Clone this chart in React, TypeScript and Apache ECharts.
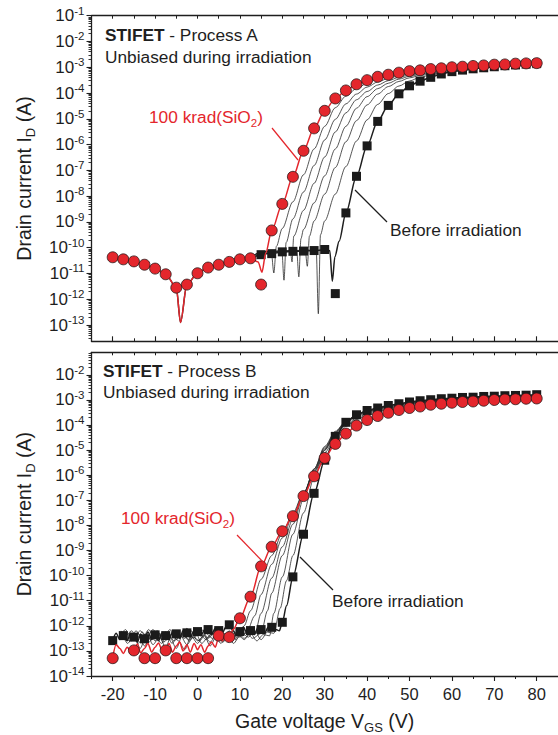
import React, { useEffect, useRef } from 'react';
import * as echarts from 'echarts';

const FONT = '"Liberation Sans", Arial, Helvetica, sans-serif';
const RED = '#e4262c';
const INK = '#1e1e1e';

// Gate voltage of the measured markers (V)
const vMarkers = [-20, -17.5, -15, -12.5, -10, -7.5, -5, -2.5, 0, 2.5, 5, 7.5, 10, 12.5, 15, 17.5, 20, 22.5, 25, 27.5, 30, 32.5, 35, 37.5, 40, 42.5, 45, 47.5, 50, 52.5, 55, 57.5, 60, 62.5, 65, 67.5, 70, 72.5, 75, 77.5, 80];

// log10(I_D / A)
// ---------- Process A (top panel) ----------
const topRedMarkers = [-10.37, -10.45, -10.53, -10.66, -10.81, -11.03, -11.55, -11.43, -10.99, -10.77, -10.66, -10.55, -10.45, -10.41, -11.43, -9.33, -8.30, -7.25, -6.24, -5.37, -4.69, -4.21, -3.90, -3.66, -3.50, -3.37, -3.29, -3.21, -3.15, -3.12, -3.07, -3.04, -3.00, -2.98, -2.95, -2.93, -2.90, -2.89, -2.86, -2.85, -2.84];
const topBlackMarkers = [null, null, null, null, null, null, null, null, null, null, null, null, null, null, -10.27, -10.23, -10.16, -10.14, -10.13, -10.11, -10.07, -11.78, -8.65, -7.23, -6.05, -5.10, -4.48, -4.03, -3.72, -3.54, -3.39, -3.26, -3.17, -3.11, -3.06, -3.02, -2.98, -2.94, -2.91, -2.88, -2.86];
const topRedLine = [[-20, -10.37], [-17.5, -10.45], [-15, -10.53], [-12.5, -10.66], [-10, -10.81], [-7.5, -11.03], [-5, -11.55], [-4.0, -12.9], [-2.5, -11.43], [0, -10.99], [2.5, -10.77], [5, -10.66], [7.5, -10.55], [10, -10.45], [12.5, -10.41], [14.3, -10.55], [15.2, -10.95], [16.1, -10.2], [17.5, -9.33], [20, -8.30], [22.5, -7.25], [25, -6.24], [27.5, -5.37], [30, -4.69], [32.5, -4.21], [35, -3.90], [37.5, -3.66], [40, -3.50], [42.5, -3.37], [45, -3.29], [47.5, -3.21], [50, -3.15], [52.5, -3.12], [55, -3.07], [57.5, -3.04], [60, -3.00], [62.5, -2.98], [65, -2.95], [67.5, -2.93], [70, -2.90], [72.5, -2.89], [75, -2.86], [77.5, -2.85], [80, -2.84]];
const topBlackLine = [[-20, -10.37], [-17.5, -10.45], [-15, -10.53], [-12.5, -10.66], [-10, -10.81], [-7.5, -11.03], [-5, -11.55], [-4.0, -12.9], [-2.5, -11.43], [0, -10.99], [2.5, -10.77], [5, -10.66], [7.5, -10.55], [10, -10.45], [12.5, -10.41], [15, -10.25], [17.5, -10.22], [20, -10.17], [22.5, -10.14], [25, -10.13], [27.5, -10.11], [30, -10.08], [31.2, -10.12], [31.8, -11.3], [32.4, -10.35], [33.4, -9.75], [35, -8.65], [37.5, -7.23], [40, -6.05], [42.5, -5.10], [45, -4.48], [47.5, -4.03], [50, -3.72], [52.5, -3.54], [55, -3.39], [57.5, -3.26], [60, -3.17], [62.5, -3.11], [65, -3.06], [67.5, -3.02], [70, -2.98], [72.5, -2.94], [75, -2.91], [77.5, -2.88], [80, -2.86]];
const topDose1 = [[12.5, -10.41], [15, -10.18], [17.4, -10.15], [18.0, -10.98], [18.6, -9.95], [20, -9.25], [22.5, -8.22], [25, -7.17], [27.5, -6.17], [30, -5.29], [32.5, -4.57], [35, -4.12], [37.5, -3.83], [40, -3.62], [42.5, -3.46], [45, -3.35], [47.5, -3.27], [50, -3.20], [55, -3.10], [60, -3.03], [70, -2.93], [80, -2.85]];
const topDose2 = [[12.5, -10.41], [15, -10.17], [19.9, -10.14], [20.4, -11.26], [20.9, -9.8], [22.5, -8.88], [25, -7.84], [27.5, -6.81], [30, -5.82], [32.5, -5.02], [35, -4.42], [37.5, -4.04], [40, -3.77], [42.5, -3.57], [45, -3.43], [47.5, -3.33], [50, -3.26], [55, -3.15], [60, -3.06], [70, -2.94], [80, -2.85]];
const topDose3 = [[12.5, -10.41], [15, -10.16], [21.9, -10.12], [22.3, -10.55], [22.7, -9.55], [25, -8.55], [27.5, -7.50], [30, -6.48], [32.5, -5.51], [35, -4.77], [37.5, -4.26], [40, -3.94], [42.5, -3.69], [45, -3.52], [47.5, -3.39], [50, -3.30], [52.5, -3.25], [55, -3.19], [60, -3.09], [70, -2.95], [80, -2.85]];
const topDose4 = [[12.5, -10.41], [15, -10.16], [23.4, -10.12], [23.9, -11.13], [24.4, -9.65], [25, -9.29], [27.5, -8.26], [30, -7.21], [32.5, -6.17], [35, -5.29], [37.5, -4.59], [40, -4.14], [42.5, -3.83], [45, -3.62], [47.5, -3.46], [50, -3.35], [52.5, -3.28], [55, -3.22], [60, -3.12], [70, -2.96], [80, -2.85]];
const topDose5 = [[12.5, -10.41], [15, -10.15], [25.4, -10.1], [25.9, -10.72], [26.4, -9.55], [27.5, -8.96], [30, -7.92], [32.5, -6.89], [35, -5.89], [37.5, -5.07], [40, -4.46], [42.5, -4.04], [45, -3.75], [47.5, -3.55], [50, -3.41], [52.5, -3.32], [55, -3.26], [60, -3.15], [70, -2.97], [80, -2.86]];
const topDose6 = [[12.5, -10.41], [15, -10.15], [28.0, -10.09], [28.5, -12.56], [29.0, -9.5], [30, -8.96], [32.5, -7.92], [35, -6.85], [37.5, -5.86], [40, -5.04], [42.5, -4.44], [45, -4.02], [47.5, -3.73], [50, -3.53], [52.5, -3.39], [55, -3.30], [57.5, -3.24], [60, -3.17], [70, -2.98], [80, -2.86]];

// ---------- Process B (bottom panel) ----------
const botRedMarkers = [-13.29, null, -12.98, -13.29, -13.29, -12.98, -13.29, -13.29, -13.29, -13.29, -12.39, -12.45, -11.70, -10.84, -9.63, -8.85, -8.23, -7.63, -6.83, -6.04, -5.31, -4.75, -4.34, -4.02, -3.80, -3.64, -3.51, -3.40, -3.32, -3.26, -3.19, -3.15, -3.11, -3.08, -3.06, -3.03, -3.00, -2.98, -2.97, -2.95, -2.94];
const botBlackMarkers = [-12.59, -12.39, -12.45, -12.52, -12.36, -12.39, -12.32, -12.28, -12.23, -12.15, -12.19, -11.96, -12.23, -12.19, -12.15, -12.06, -11.86, -10.05, -8.35, -6.72, -5.40, -4.45, -3.89, -3.59, -3.42, -3.32, -3.22, -3.15, -3.08, -3.03, -2.99, -2.95, -2.93, -2.90, -2.89, -2.86, -2.85, -2.83, -2.82, -2.81, -2.79];
const botRedLine = [[-20, -13.25], [-19.2, -12.75], [-18.3, -12.9], [-17.5, -13.1], [-16.6, -12.85], [-15.8, -13.0], [-15, -12.98], [-14.2, -12.72], [-13.4, -13.08], [-12.5, -12.9], [-11.7, -12.7], [-10.8, -13.05], [-10, -12.85], [-9.2, -12.68], [-8.4, -12.95], [-7.5, -12.98], [-6.7, -12.7], [-5.9, -13.05], [-5, -12.8], [-4.2, -12.65], [-3.4, -13.0], [-2.5, -12.75], [-1.7, -13.05], [-0.8, -12.7], [0, -12.95], [0.8, -12.75], [1.7, -13.05], [2.5, -12.8], [3.3, -12.65], [4.2, -12.85], [5, -12.45], [5.8, -12.6], [6.7, -12.4], [7.5, -12.45], [8.4, -12.15], [10, -11.70], [12.5, -10.84], [15, -9.63], [17.5, -8.85], [20, -8.23], [22.5, -7.63], [25, -6.83], [27.5, -6.04], [30, -5.31], [32.5, -4.75], [35, -4.34], [37.5, -4.02], [40, -3.80], [42.5, -3.64], [45, -3.51], [47.5, -3.40], [50, -3.32], [52.5, -3.26], [55, -3.19], [57.5, -3.15], [60, -3.11], [62.5, -3.08], [65, -3.06], [67.5, -3.03], [70, -3.00], [72.5, -2.98], [75, -2.97], [77.5, -2.95], [80, -2.94]];
const botBlackLine = [[-20, -12.59], [-19.2, -12.3], [-18.3, -12.55], [-17.5, -12.39], [-16.6, -12.6], [-15.8, -12.3], [-15, -12.45], [-14.2, -12.65], [-13.4, -12.35], [-12.5, -12.52], [-11.7, -12.25], [-10.8, -12.55], [-10, -12.36], [-9.2, -12.6], [-8.4, -12.3], [-7.5, -12.39], [-6.7, -12.55], [-5.9, -12.25], [-5, -12.32], [-4.2, -12.5], [-3.4, -12.2], [-2.5, -12.28], [-1.7, -12.45], [-0.8, -12.2], [0, -12.23], [0.8, -12.4], [1.7, -12.15], [2.5, -12.15], [3.3, -12.35], [4.2, -12.1], [5, -12.19], [5.8, -12.3], [6.7, -12.05], [7.5, -11.96], [8.4, -12.2], [9.2, -12.4], [10, -12.23], [10.8, -12.05], [11.7, -12.3], [12.5, -12.19], [13.4, -12.35], [14.2, -12.1], [15, -12.15], [15.8, -12.3], [16.7, -12.05], [17.5, -12.06], [18.5, -12.15], [19.3, -12.2], [20, -11.86], [21, -11.2], [22.5, -10.05], [25, -8.35], [27.5, -6.72], [30, -5.40], [32.5, -4.45], [35, -3.89], [37.5, -3.59], [40, -3.42], [42.5, -3.32], [45, -3.22], [47.5, -3.15], [50, -3.08], [52.5, -3.03], [55, -2.99], [57.5, -2.95], [60, -2.93], [62.5, -2.90], [65, -2.89], [67.5, -2.86], [70, -2.85], [72.5, -2.83], [75, -2.82], [77.5, -2.81], [80, -2.79]];
const botDose1 = [[-18, -12.2], [-16.5, -12.7], [-15, -12.4], [-13.5, -12.9], [-12, -12.3], [-10.5, -12.75], [-9, -12.45], [-7.5, -12.85], [-6, -12.3], [-4.5, -12.6], [-3, -12.95], [-1.5, -12.4], [0, -12.7], [1.5, -12.35], [3, -12.8], [4.5, -12.4], [6, -12.65], [7.5, -12.3], [9, -12.5], [10, -12.3], [11, -12.0], [12.5, -11.4], [15, -10.15], [17.5, -9.2], [20, -8.3], [22.5, -7.5], [25, -6.7], [27.5, -5.9], [30, -5.1], [32.5, -4.5], [35, -4.05], [37.5, -3.78], [40, -3.6], [45, -3.38], [50, -3.22], [60, -3.05], [70, -2.93], [80, -2.85]];
const botDose2 = [[-18.5, -12.5], [-17, -12.15], [-15.5, -12.6], [-14, -12.3], [-12.5, -12.8], [-11, -12.4], [-9.5, -12.2], [-8, -12.65], [-6.5, -12.45], [-5, -12.9], [-3.5, -12.35], [-2, -12.55], [-0.5, -12.25], [1, -12.7], [2.5, -12.45], [4, -12.2], [5.5, -12.55], [7, -12.35], [8.5, -12.7], [10, -12.4], [11.5, -12.3], [13.5, -11.6], [15, -10.75], [17.5, -9.55], [20, -8.5], [22.5, -7.6], [25, -6.7], [27.5, -5.85], [30, -5.0], [32.5, -4.4], [35, -4.0], [37.5, -3.72], [40, -3.55], [45, -3.33], [50, -3.18], [60, -3.0], [70, -2.9], [80, -2.83]];
const botDose3 = [[-17.5, -12.35], [-16, -12.6], [-14.5, -12.2], [-13, -12.5], [-11.5, -12.15], [-10, -12.6], [-8.5, -12.3], [-7, -12.5], [-5.5, -12.2], [-4, -12.45], [-2.5, -12.1], [-1, -12.5], [0.5, -12.3], [2, -12.55], [3.5, -12.25], [5, -12.6], [6.5, -12.3], [8, -12.55], [9.5, -12.25], [11, -12.5], [12.5, -12.3], [13.5, -12.35], [15, -11.5], [17.5, -10.1], [20, -8.85], [22.5, -7.75], [25, -6.75], [27.5, -5.8], [30, -4.95], [32.5, -4.33], [35, -3.93], [37.5, -3.66], [40, -3.5], [45, -3.3], [50, -3.15], [60, -2.98], [70, -2.88], [80, -2.82]];
const botDose4 = [[-17, -12.45], [-15.5, -12.2], [-14, -12.7], [-12.5, -12.35], [-11, -12.55], [-9.5, -12.25], [-8, -12.45], [-6.5, -12.15], [-5, -12.55], [-3.5, -12.3], [-2, -12.6], [-0.5, -12.35], [1, -12.15], [2.5, -12.5], [4, -12.3], [5.5, -12.7], [7, -12.4], [8.5, -12.2], [10, -12.45], [11.5, -12.25], [13, -12.5], [15, -12.3], [16.5, -11.4], [17.5, -10.7], [20, -9.2], [22.5, -7.95], [25, -6.8], [27.5, -5.75], [30, -4.9], [32.5, -4.28], [35, -3.88], [37.5, -3.62], [40, -3.46], [45, -3.27], [50, -3.13], [60, -2.97], [70, -2.87], [80, -2.81]];
const botDose5 = [[-16, -12.3], [-14.5, -12.55], [-13, -12.25], [-11.5, -12.65], [-10, -12.4], [-8.5, -12.7], [-7, -12.3], [-5.5, -12.6], [-4, -12.4], [-2.5, -12.75], [-1, -12.45], [0.5, -12.6], [2, -12.3], [3.5, -12.5], [5, -12.2], [6.5, -12.45], [8, -12.6], [9.5, -12.35], [11, -12.55], [12.5, -12.3], [14, -12.6], [15.5, -12.35], [17, -12.4], [18, -11.5], [20, -10.05], [22.5, -8.35], [25, -6.95], [27.5, -5.75], [30, -4.85], [32.5, -4.25], [35, -3.85], [37.5, -3.6], [40, -3.44], [45, -3.25], [50, -3.11], [60, -2.96], [70, -2.86], [80, -2.8]];
const botDose6 = [[-15, -12.5], [-13.5, -12.2], [-12, -12.45], [-10.5, -12.15], [-9, -12.5], [-7.5, -12.25], [-6, -12.7], [-4.5, -12.35], [-3, -12.5], [-1.5, -12.2], [0, -12.6], [1.5, -12.4], [3, -12.65], [4.5, -12.3], [6, -12.5], [7.5, -12.2], [9, -12.55], [10.5, -12.3], [12, -12.45], [13.5, -12.2], [15, -12.55], [16.5, -12.25], [18, -12.3], [19.5, -11.3], [21, -10.2], [22.5, -9.2], [25, -7.5], [27.5, -6.1], [30, -5.0], [32.5, -4.3], [35, -3.87], [37.5, -3.6], [40, -3.44], [45, -3.25], [50, -3.1], [60, -2.95], [70, -2.85], [80, -2.8]];

// Axis ticks
const xMajorTicks = [-20, -10, 0, 10, 20, 30, 40, 50, 60, 70, 80];
const xMinorTicks = [-25, -15, -5, 5, 15, 25, 35, 45, 55, 65, 75, 85];
const topDecades = [-13, -12, -11, -10, -9, -8, -7, -6, -5, -4, -3, -2, -1];
const botDecades = [-14, -13, -12, -11, -10, -9, -8, -7, -6, -5, -4, -3, -2];

const TOP_Y = { min: -13.63, max: -1 };
const BOT_Y = { min: -14, max: -1.1 };
const X_RANGE = { min: -25, max: 85 };

function minorDecadeTicks(min: number, max: number) {
  const out: number[] = [];
  for (let n = Math.floor(min) - 1; n <= Math.ceil(max); n++) {
    for (let k = 2; k <= 9; k++) {
      const v = n + Math.log10(k);
      if (v > min && v < max) out.push(v);
    }
  }
  return out;
}

function zipMarkers(vals: (number | null)[]) {
  const out: number[][] = [];
  vals.forEach((v, i) => {
    if (v !== null) out.push([vMarkers[i], v]);
  });
  return out;
}

export default function App() {
  const ref = useRef<HTMLDivElement>(null);
  useEffect(() => {
    const chart = echarts.init(ref.current!, null, { renderer: 'svg' });

    const axisLine = { show: true, onZero: false, lineStyle: { color: INK, width: 1.3 } };
    const noLine = { show: false, onZero: false };
    const labelRich = {
      b: { fontSize: 17, fontFamily: FONT, color: INK, lineHeight: 22 },
      s: { fontSize: 11.5, fontFamily: FONT, color: INK, lineHeight: 11, verticalAlign: 'top' },
    };
    const nameStyle = {
      fontSize: 19.5, fontFamily: FONT, color: INK, lineHeight: 26,
      rich: { sub: { fontSize: 13, fontFamily: FONT, color: INK, lineHeight: 13, verticalAlign: 'bottom' } },
    };

    const xAxisSet = (gridIndex: number, isBottomPanel: boolean) => [
      {
        type: 'value', gridIndex, position: 'bottom', ...X_RANGE,
        axisLine,
        splitLine: { show: false },
        axisTick: { show: true, inside: !isBottomPanel, length: 5, customValues: xMajorTicks, lineStyle: { color: INK, width: 1.1 } },
        axisLabel: isBottomPanel
          ? { show: true, customValues: xMajorTicks, fontSize: 16.5, fontFamily: FONT, color: INK, margin: 9 }
          : { show: false },
        ...(isBottomPanel
          ? { name: 'Gate voltage V{sub|GS} (V)', nameLocation: 'middle', nameGap: 32, nameTextStyle: nameStyle }
          : {}),
      },
      {
        type: 'value', gridIndex, position: 'bottom', ...X_RANGE,
        axisLine: noLine, splitLine: { show: false }, axisLabel: { show: false },
        axisTick: { show: true, inside: !isBottomPanel, length: 3, customValues: xMinorTicks, lineStyle: { color: INK, width: 1 } },
      },
      {
        type: 'value', gridIndex, position: 'top', ...X_RANGE,
        axisLine, splitLine: { show: false }, axisLabel: { show: false },
        axisTick: { show: true, inside: true, length: 3, customValues: [...xMajorTicks, ...xMinorTicks], lineStyle: { color: INK, width: 1 } },
      },
    ];

    const yAxisSet = (gridIndex: number, range: { min: number; max: number }, decades: number[]) => [
      {
        type: 'value', gridIndex, position: 'left', ...range,
        axisLine, splitLine: { show: false },
        axisTick: { show: true, inside: false, length: 5, customValues: decades, lineStyle: { color: INK, width: 1.1 } },
        axisLabel: {
          show: true, customValues: decades, margin: 7,
          formatter: (v: number) => `{b|10}{s|${Math.round(v)}}`,
          rich: labelRich,
        },
        name: 'Drain current I{sub|D} (A)', nameLocation: 'middle', nameGap: 55, nameRotate: 90,
        nameTextStyle: nameStyle,
      },
      {
        type: 'value', gridIndex, position: 'left', ...range,
        axisLine: noLine, splitLine: { show: false }, axisLabel: { show: false },
        axisTick: { show: true, inside: false, length: 3, customValues: minorDecadeTicks(range.min, range.max), lineStyle: { color: INK, width: 0.9 } },
      },
    ];

    const thin = (data: number[][], xi: number, yi: number) => ({
      type: 'line', data, xAxisIndex: xi, yAxisIndex: yi, showSymbol: false, symbol: 'none',
      smooth: 0.3, smoothMonotone: 'x', lineStyle: { color: '#2a2a2a', width: 0.8 }, z: 2, silent: true,
    });
    const thick = (data: number[][], color: string, xi: number, yi: number, z: number) => ({
      type: 'line', data, xAxisIndex: xi, yAxisIndex: yi, showSymbol: false, symbol: 'none',
      smooth: 0.3, smoothMonotone: 'x', lineStyle: { color, width: 1.5 }, z, silent: true,
    });
    const squares = (vals: (number | null)[], xi: number, yi: number) => ({
      type: 'scatter', data: zipMarkers(vals), xAxisIndex: xi, yAxisIndex: yi,
      symbol: 'rect', symbolSize: 9, itemStyle: { color: '#1a1a1a', opacity: 1 }, z: 4, silent: true,
    });
    const circles = (vals: (number | null)[], xi: number, yi: number) => ({
      type: 'scatter', data: zipMarkers(vals), xAxisIndex: xi, yAxisIndex: yi,
      symbol: 'circle', symbolSize: 11, itemStyle: { color: RED, borderColor: '#2a1a1a', borderWidth: 0.8, opacity: 1 }, z: 6, silent: true,
    });

    const txt = (x: number, y: number, text: string, fill: string, rich?: any) => ({
      type: 'text', x, y,
      style: { text, x: 0, y: 0, fill, fontSize: 17.3, fontFamily: FONT, lineHeight: 24, verticalAlign: 'middle', rich },
      z: 100,
    });
    const boldRich = { b: { fontSize: 17.3, fontFamily: FONT, fontWeight: 'bold', fill: INK, color: INK, lineHeight: 24 } };
    const subRed = {
      sub: { fontSize: 11.5, fontFamily: FONT, color: RED, fill: RED, lineHeight: 11, verticalAlign: 'bottom' },
    };
    const leader = (x1: number, y1: number, x2: number, y2: number, stroke: string) => ({
      type: 'line', shape: { x1, y1, x2, y2 }, style: { stroke, lineWidth: 1.2 }, z: 100,
    });

    const option: any = {
      animation: false,
      backgroundColor: '#ffffff',
      grid: [
        { left: 91.5, top: 15.7, width: 466.4, height: 325.6 },
        { left: 91.5, top: 352.3, width: 466.4, height: 325.4 },
      ],
      xAxis: [...xAxisSet(0, false), ...xAxisSet(1, true)],
      yAxis: [...yAxisSet(0, TOP_Y, topDecades), ...yAxisSet(1, BOT_Y, botDecades)],
      series: [
        thin(topDose1, 0, 0), thin(topDose2, 0, 0), thin(topDose3, 0, 0),
        thin(topDose4, 0, 0), thin(topDose5, 0, 0), thin(topDose6, 0, 0),
        thick(topBlackLine, INK, 0, 0, 3),
        squares(topBlackMarkers, 0, 0),
        thick(topRedLine, RED, 0, 0, 5),
        circles(topRedMarkers, 0, 0),
        thin(botDose1, 3, 2), thin(botDose2, 3, 2), thin(botDose3, 3, 2),
        thin(botDose4, 3, 2), thin(botDose5, 3, 2), thin(botDose6, 3, 2),
        thick(botBlackLine, INK, 3, 2, 3),
        squares(botBlackMarkers, 3, 2),
        thick(botRedLine, RED, 3, 2, 5),
        circles(botRedMarkers, 3, 2),
      ],
      graphic: [
        txt(105, 35, '{b|STIFET} - Process A', INK, boldRich),
        txt(105, 57, 'Unbiased during irradiation', INK),
        txt(149, 117, '100 krad(SiO{sub|2})', RED, subRed),
        leader(272, 128, 298, 160, RED),
        txt(390, 230, 'Before irradiation', INK),
        leader(355, 190, 387, 222, INK),
        txt(103, 371, '{b|STIFET} - Process B', INK, boldRich),
        txt(103, 392, 'Unbiased during irradiation', INK),
        txt(121, 518, '100 krad(SiO{sub|2})', RED, subRed),
        leader(237, 535, 267, 566, RED),
        txt(332, 601, 'Before irradiation', INK),
        leader(300, 557, 333, 590, INK),
      ],
    };

    chart.setOption(option);
    return () => chart.dispose();
  }, []);

  return <div ref={ref} style={{ position: 'fixed', left: 0, top: 0, width: 558, height: 735, background: '#fff' }} />;
}
